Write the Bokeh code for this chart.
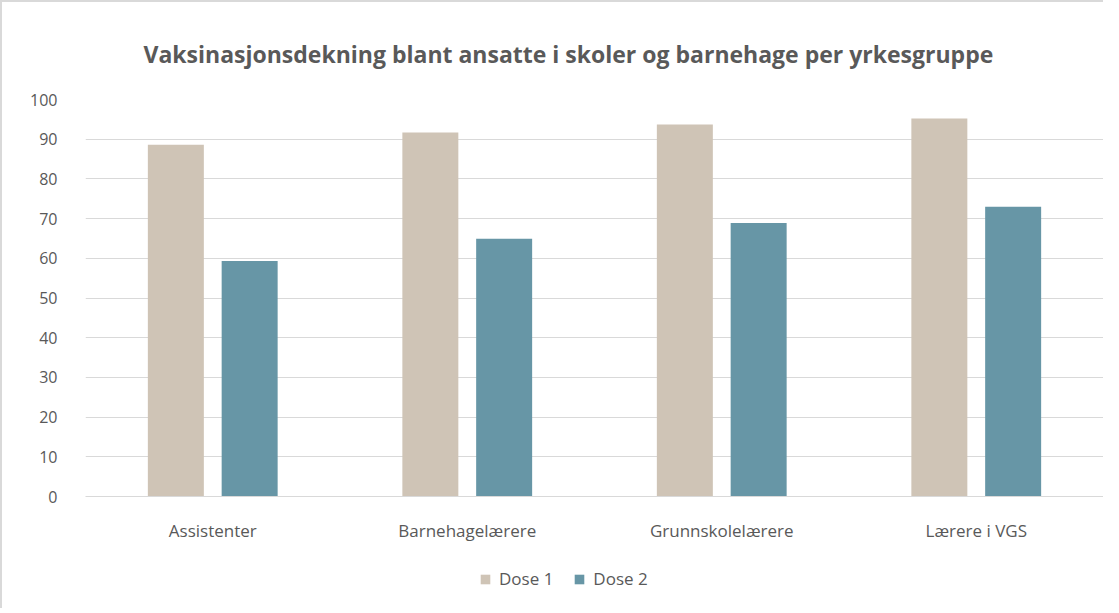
from bokeh.plotting import figure
from bokeh.layouts import column
from bokeh.models import ColumnDataSource, Legend, LegendItem, Range1d, FactorRange, Title
from bokeh.transform import dodge
from bokeh.embed import file_html
from bokeh.resources import INLINE

categories = ["Assistenter", "Barnehagelærere", "Grunnskolelærere", "Lærere i VGS"]
dose1 = [88.6, 91.7, 93.7, 95.2]
dose2 = [59.3, 64.9, 68.9, 73.0]
series_names = ["Dose 1", "Dose 2"]
colors = ["#cfc4b6", "#6796a6"]
yticks = [0, 10, 20, 30, 40, 50, 60, 70, 80, 90, 100]
title_text = "Vaksinasjonsdekning blant ansatte i skoler og barnehage per yrkesgruppe"

src = ColumnDataSource(dict(cat=categories, d1=dose1, d2=dose2))

p = figure(x_range=FactorRange(*categories, range_padding=0), y_range=Range1d(0, 100),
           width=1101, height=544, output_backend="svg", toolbar_location=None,
           min_border_left=83, min_border_right=0, min_border_top=97, min_border_bottom=50)

t = Title(text=title_text, align="left", offset=58, text_font="Open Sans",
          text_font_style="bold", text_font_size="23px", text_color="#595959", standoff=59)
p.add_layout(t, "above")
p.title.visible = False

p.vbar(x=dodge("cat", -0.145, range=p.x_range), top="d1", width=0.22, source=src,
       fill_color=colors[0], line_color=None)
p.vbar(x=dodge("cat", 0.145, range=p.x_range), top="d2", width=0.22, source=src,
       fill_color=colors[1], line_color=None)

p.outline_line_color = None
p.xgrid.grid_line_color = None
p.ygrid.grid_line_color = "#d9d9d9"
p.ygrid.grid_line_width = 1
p.yaxis.ticker = yticks
p.yaxis.axis_line_color = None
p.yaxis.major_tick_line_color = None
p.yaxis.minor_tick_line_color = None
p.yaxis.major_label_standoff = 22
p.yaxis.major_label_text_font = "Open Sans"
p.yaxis.major_label_text_font_size = "16px"
p.yaxis.major_label_text_color = "#595959"

p.xaxis.axis_line_color = "#d9d9d9"
p.xaxis.major_tick_line_color = None
p.xaxis.minor_tick_line_color = None
p.xaxis.major_label_standoff = 16
p.xaxis.major_label_text_font = "Open Sans"
p.xaxis.major_label_text_font_size = "17px"
p.xaxis.major_label_text_color = "#595959"

# legend strip (swatch renderers sit outside the visible range)
p2 = figure(x_range=Range1d(0, 1), y_range=Range1d(0, 1), width=1101, height=62,
            output_backend="svg", toolbar_location=None,
            min_border_left=4, min_border_right=0, min_border_top=0, min_border_bottom=0)
p2.axis.visible = False
p2.grid.visible = False
p2.outline_line_color = None
e1 = p2.vbar(x=[5], top=[0.5], width=0.1, fill_color=colors[0], line_color=None)
e2 = p2.vbar(x=[5], top=[0.5], width=0.1, fill_color=colors[1], line_color=None)
legend = Legend(items=[LegendItem(label=series_names[0], renderers=[e1]),
                       LegendItem(label=series_names[1], renderers=[e2])],
                orientation="horizontal", location=(394, 18),
                label_text_font="Open Sans", label_text_font_size="17px",
                label_text_color="#595959", glyph_width=12, glyph_height=12,
                spacing=20, label_standoff=8, border_line_color=None,
                background_fill_alpha=0, margin=0, padding=0)
p2.add_layout(legend, "center")

layout = column(p, p2, spacing=0)
layout.styles = {"border-left": "2px solid #d9d9d9", "border-top": "2px solid #d9d9d9"}

open("out.html", "w").write(file_html(layout, INLINE))
